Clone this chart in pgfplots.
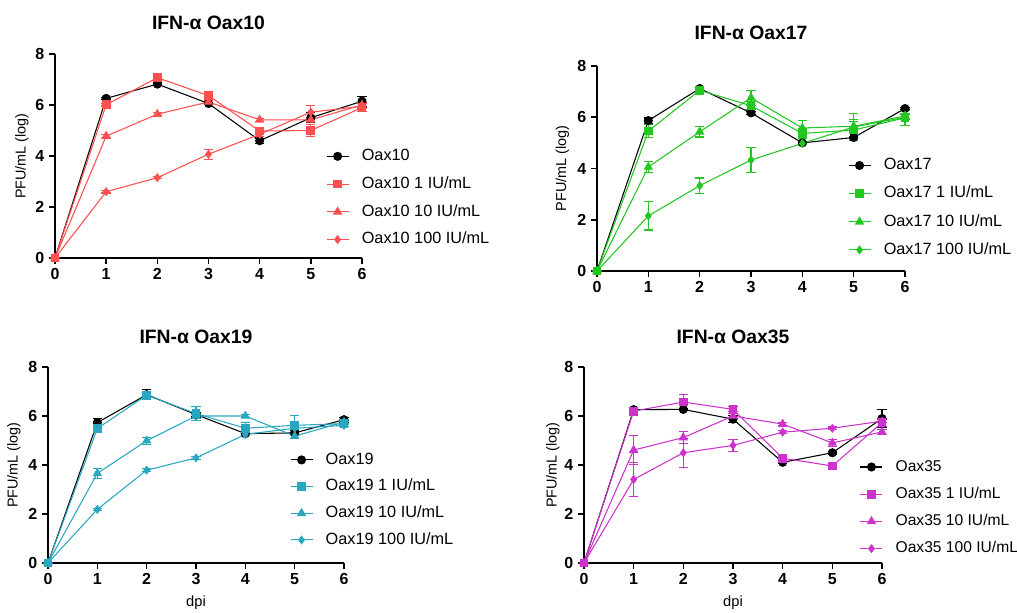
\documentclass[border=0pt]{standalone}
\usepackage{pgfplots}
\pgfplotsset{compat=1.18}
\usepackage{fontspec}
\setmainfont{Liberation Sans}
\definecolor{cred}{HTML}{FF4F4F}
\definecolor{cgreen}{HTML}{22C722}
\definecolor{cteal}{HTML}{2AA7C0}
\definecolor{cmag}{HTML}{CC33CC}
\tikzset{ttl/.style={font=\fontsize{14.5}{16}\selectfont\bfseries}}
\pgfplotsset{
  panel/.style={
    scale only axis, anchor=south west, clip=false,
    axis lines=left, axis line style={-, line width=1.3pt},
    xmin=0, xmax=6, ymin=0, ymax=8,
    xtick={0,1,2,3,4,5,6}, ytick={0,2,4,6,8},
    tick align=outside, major tick length=4.5pt,
    tick style={line width=1.2pt, black},
    ticklabel style={font=\fontsize{12}{14}\selectfont\bfseries},
    /pgf/number format/assume math mode=true,
    ylabel={PFU/mL (log)},
    ylabel style={font=\fontsize{10.8}{12}\selectfont, anchor=center},
    legend cell align=left,
    legend image code/.code={\draw[mark repeat=2,mark phase=2,##1] plot coordinates {(0pt,0pt) (8.25pt,0pt) (16.5pt,0pt)};},
    legend style={draw=none, fill=none, anchor=north west, inner sep=0pt, outer sep=0pt,
      font=\fontsize{12.2}{14}\selectfont, row sep=9.3pt,
      nodes={inner sep=0pt, outer sep=0pt, text height=9pt, text depth=2.5pt},
      /tikz/every odd column/.append style={column sep=9.5pt}},
  },
  s/.style={line width=0.8pt, mark size=3pt, mark options={solid},
    /pgfplots/error bars/y dir=both, /pgfplots/error bars/y explicit,
    /pgfplots/error bars/error bar style={line width=0.8pt},
    /pgfplots/error bars/error mark options={rotate=90, mark size=3.5pt, line width=0.8pt}},
}
\begin{document}
\begin{tikzpicture}
\useasboundingbox (0,0) rectangle (762.75pt,459pt);
% ---------- Panel 1: Oax10
\begin{axis}[panel, at={(41.25pt,265.5pt)}, width=230.25pt, height=153pt,
  ylabel style={at={(axis description cs:-0.1075,0.5)}},
  legend style={at={(axis description cs:0.883,0.536)}}]
\addplot[s, black, mark=*] table[row sep=\\, x index=0, y index=1, y error index=2] {
0 0 0\\ 1 6.26 0.05\\ 2 6.82 0.05\\ 3 6.06 0.05\\ 4 4.60 0.1\\ 5 5.50 0.2\\ 6 6.15 0.2\\};
\addlegendentry{Oax10}
\addplot[s, cred, mark=square*, mark size=2.9pt] table[row sep=\\, x index=0, y index=1, y error index=2] {
0 0 0\\ 1 6.01 0.05\\ 2 7.07 0.05\\ 3 6.37 0.1\\ 4 4.98 0.15\\ 5 5.00 0.25\\ 6 5.90 0.15\\};
\addlegendentry{Oax10 1 IU/mL}
\addplot[s, cred, mark=triangle*, mark size=3.3pt] table[row sep=\\, x index=0, y index=1, y error index=2] {
0 0 0\\ 1 4.78 0.05\\ 2 5.64 0.05\\ 3 6.12 0.05\\ 4 5.42 0.05\\ 5 5.42 0.05\\ 6 6.00 0.1\\};
\addlegendentry{Oax10 10 IU/mL}
\addplot[s, cred, mark=diamond*, mark size=2.8pt] table[row sep=\\, x index=0, y index=1, y error index=2] {
0 0 0\\ 1 2.60 0.05\\ 2 3.15 0.05\\ 3 4.07 0.2\\ 4 4.85 0.1\\ 5 5.72 0.25\\ 6 5.95 0.1\\};
\addlegendentry{Oax10 100 IU/mL}
\node[ttl] at (rel axis cs:0.5,1) [yshift=23.25pt] {IFN-α Oax10};
\end{axis}
% ---------- Panel 2: Oax17
\begin{axis}[panel, at={(447.75pt,255.75pt)}, width=231pt, height=153.75pt,
  ylabel style={at={(axis description cs:-0.112,0.5)}},
  legend style={row sep=9.6pt, at={(axis description cs:0.815,0.552)}}]
\addplot[s, black, mark=*] table[row sep=\\, x index=0, y index=1, y error index=2] {
0 0 0\\ 1 5.87 0.1\\ 2 7.12 0.05\\ 3 6.17 0.05\\ 4 5.00 0.05\\ 5 5.21 0.05\\ 6 6.34 0.05\\};
\addlegendentry{Oax17}
\addplot[s, cgreen, mark=square*, mark size=2.9pt] table[row sep=\\, x index=0, y index=1, y error index=2] {
0 0 0\\ 1 5.46 0.25\\ 2 7.05 0.05\\ 3 6.45 0.15\\ 4 5.37 0.2\\ 5 5.50 0.4\\ 6 5.98 0.3\\};
\addlegendentry{Oax17 1 IU/mL}
\addplot[s, cgreen, mark=triangle*, mark size=3.3pt] table[row sep=\\, x index=0, y index=1, y error index=2] {
0 0 0\\ 1 4.06 0.2\\ 2 5.43 0.2\\ 3 6.76 0.3\\ 4 5.58 0.3\\ 5 5.65 0.5\\ 6 6.05 0.1\\};
\addlegendentry{Oax17 10 IU/mL}
\addplot[s, cgreen, mark=diamond*, mark size=2.8pt] table[row sep=\\, x index=0, y index=1, y error index=2] {
0 0 0\\ 1 2.15 0.55\\ 2 3.33 0.3\\ 3 4.33 0.5\\ 4 4.98 0.05\\ 5 5.62 0.2\\ 6 6.00 0.1\\};
\addlegendentry{Oax17 100 IU/mL}
\node[ttl] at (rel axis cs:0.5,1) [yshift=24.75pt] {IFN-α Oax17};
\end{axis}
% ---------- Panel 3: Oax19
\begin{axis}[panel, at={(36pt,36.75pt)}, width=222pt, height=147pt,
  ylabel style={at={(axis description cs:-0.115,0.5)}},
  xlabel={dpi}, xlabel style={font=\fontsize{11}{12}\selectfont, at={(axis description cs:0.5,0)}, anchor=center, yshift=-30pt},
  legend style={row sep=8.5pt, at={(axis description cs:0.8176,0.565)}}]
\addplot[s, black, mark=*] table[row sep=\\, x index=0, y index=1, y error index=2] {
0 0 0\\ 1 5.73 0.15\\ 2 6.87 0.2\\ 3 6.06 0.1\\ 4 5.28 0.05\\ 5 5.31 0.1\\ 6 5.85 0.1\\};
\addlegendentry{Oax19}
\addplot[s, cteal, mark=square*, mark size=2.9pt] table[row sep=\\, x index=0, y index=1, y error index=2] {
0 0 0\\ 1 5.49 0.1\\ 2 6.85 0.1\\ 3 6.10 0.3\\ 4 5.50 0.25\\ 5 5.62 0.4\\ 6 5.69 0.1\\};
\addlegendentry{Oax19 1 IU/mL}
\addplot[s, cteal, mark=triangle*, mark size=3.3pt] table[row sep=\\, x index=0, y index=1, y error index=2] {
0 0 0\\ 1 3.66 0.2\\ 2 4.99 0.15\\ 3 6.00 0.1\\ 4 6.00 0.05\\ 5 5.18 0.1\\ 6 5.75 0.05\\};
\addlegendentry{Oax19 10 IU/mL}
\addplot[s, cteal, mark=diamond*, mark size=2.8pt] table[row sep=\\, x index=0, y index=1, y error index=2] {
0 0 0\\ 1 2.19 0.05\\ 2 3.79 0.05\\ 3 4.29 0.05\\ 4 5.25 0.05\\ 5 5.50 0.05\\ 6 5.62 0.05\\};
\addlegendentry{Oax19 100 IU/mL}
\node[ttl] at (rel axis cs:0.5,1) [yshift=22.5pt] {IFN-α Oax19};
\end{axis}
% ---------- Panel 4: Oax35
\begin{axis}[panel, at={(438pt,36.75pt)}, width=223.5pt, height=147pt,
  ylabel style={at={(axis description cs:-0.104,0.5)}},
  xlabel={dpi}, xlabel style={font=\fontsize{11}{12}\selectfont, at={(axis description cs:0.5,0)}, anchor=center, yshift=-30pt},
  legend style={row sep=8.9pt, font=\fontsize{11.7}{14}\selectfont, at={(axis description cs:0.926,0.529)}}]
\addplot[s, black, mark=*] table[row sep=\\, x index=0, y index=1, y error index=2] {
0 0 0\\ 1 6.26 0.05\\ 2 6.27 0.05\\ 3 5.87 0.15\\ 4 4.11 0.05\\ 5 4.50 0.05\\ 6 5.90 0.35\\};
\addlegendentry{Oax35}
\addplot[s, cmag, mark=square*, mark size=2.9pt] table[row sep=\\, x index=0, y index=1, y error index=2] {
0 0 0\\ 1 6.20 0.05\\ 2 6.57 0.3\\ 3 6.27 0.1\\ 4 4.28 0.1\\ 5 3.96 0.1\\ 6 5.73 0.15\\};
\addlegendentry{Oax35 1 IU/mL}
\addplot[s, cmag, mark=triangle*, mark size=3.3pt] table[row sep=\\, x index=0, y index=1, y error index=2] {
0 0 0\\ 1 4.61 0.6\\ 2 5.12 0.25\\ 3 6.00 0.1\\ 4 5.67 0.05\\ 5 4.90 0.15\\ 6 5.35 0.1\\};
\addlegendentry{Oax35 10 IU/mL}
\addplot[s, cmag, mark=diamond*, mark size=2.8pt] table[row sep=\\, x index=0, y index=1, y error index=2] {
0 0 0\\ 1 3.41 0.7\\ 2 4.50 0.6\\ 3 4.80 0.25\\ 4 5.34 0.05\\ 5 5.50 0.05\\ 6 5.79 0.05\\};
\addlegendentry{Oax35 100 IU/mL}
\node[ttl] at (rel axis cs:0.5,1) [yshift=22.5pt] {IFN-α Oax35};
\end{axis}
\end{tikzpicture}
\end{document}
